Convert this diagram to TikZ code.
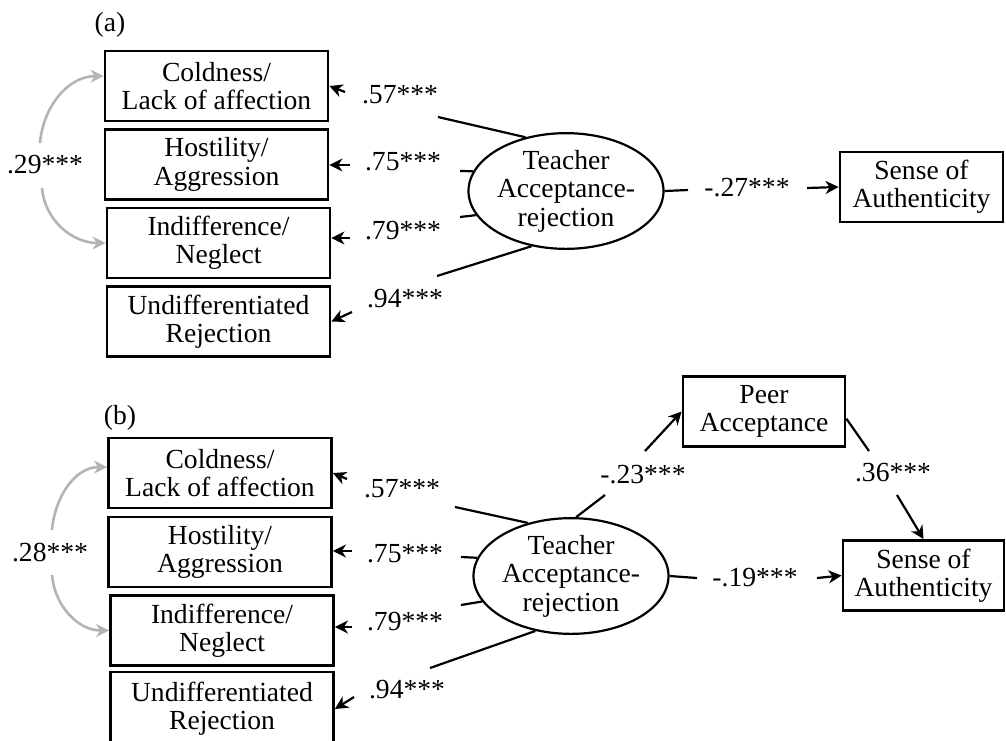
\documentclass[tikz,border=0pt]{standalone}
\usepackage{fontspec}
\setmainfont{Liberation Serif}
\usepackage{tikz}
\usetikzlibrary{shapes.geometric,arrows.meta,positioning}
\definecolor{covgray}{RGB}{180,180,180}

\begin{document}
\begin{tikzpicture}[x=0.5pt,y=-0.5pt,
		every node/.style={font=\fontsize{13.8}{14.2}\selectfont},
		item/.style={draw,line width=1.4pt,minimum width=111.5pt,minimum height=35pt,align=center,inner sep=0pt},
		latent/.style={draw,ellipse,line width=1.1pt,minimum width=96.5pt,minimum height=51pt,align=center,inner sep=0pt},
		link/.style={line width=1.1pt},
		tip/.style={line width=1.1pt,-{Stealth[length=6.5pt,width=6.5pt,inset=2pt]}},
		cov/.style={covgray,line width=1.3pt,-{Stealth[length=6.5pt,width=6.5pt,inset=2pt]}}]
		\useasboundingbox (0,0) rectangle (1006,740);
		% (a)
		\node (lbla) at (110,25) {(a)};
		\node[item] (cold-a) at (216.5,86) {Coldness/\\Lack of affection};
		\node[item] (host-a) at (216.5,164.5) {Hostility/\\Aggression};
		\node[item] (indi-a) at (218.5,243) {Indifference/\\Neglect};
		\node[item] (undi-a) at (218.5,321.5) {Undifferentiated\\Rejection};
		\node[latent] (tar-a) at (566,191) {Teacher\\Acceptance-\\rejection};
		\node[item,minimum width=81.5pt] (soa-a) at (921.5,187) {Sense of\\Authenticity};
		\node (l57a) at (400,95) {.57***};
		\node (l75a) at (403,162) {.75***};
		\node (l79a) at (403,231) {.79***};
		\node (l94a) at (405,299) {.94***};
		\node (l27a) at (747,188) {-.27***};
		\node (l29a) at (45,165) {.29***};
		\coordinate (m1a) at (438,117);
		\coordinate (m2a) at (460,171);
		\coordinate (m3a) at (460,217);
		\coordinate (m4a) at (437,276);
		\coordinate (s1a) at (345,92);
		\coordinate (s2a) at (350,165);
		\coordinate (s3a) at (350,238);
		\coordinate (s4a) at (352,312);
		\coordinate (m5a) at (688,190);
		\coordinate (s5a) at (807,188);
		\coordinate (k1a) at (40,143);
		\coordinate (k2a) at (42,188);
		\draw[link] (tar-a.127)--(m1a);
		\draw[link] (tar-a.168)--(m2a);
		\draw[link] (tar-a.195)--(m3a);
		\draw[link] (tar-a.238)--(m4a);
		\draw[tip] (s1a)--(cold-a.east);
		\draw[tip] (s2a)--(s2a -| host-a.east);
		\draw[tip] (s3a)--(s3a -| indi-a.east);
		\draw[tip] (s4a)--(undi-a.east);
		\draw[link] (tar-a.east)--(m5a);
		\draw[tip] (s5a)--(soa-a.west);
		\draw[cov] (k1a) to[out=85,in=180] (cold-a.175);
		\draw[cov] (k2a) to[out=-85,in=180] (indi-a.west);
		% (b)
		\node (lblb) at (120,418) {(b)};
		\node[item] (cold-b) at (220,473) {Coldness/\\Lack of affection};
		\node[item] (host-b) at (220,552) {Hostility/\\Aggression};
		\node[item] (indi-b) at (222,630.5) {Indifference/\\Neglect};
		\node[item,minimum height=37pt] (undi-b) at (222,709) {Undifferentiated\\Rejection};
		\node[latent] (tar-b) at (571,576) {Teacher\\Acceptance-\\rejection};
		\node[item,minimum width=81pt] (peer) at (764,411.5) {Peer\\Acceptance};
		\node[item,minimum width=80.5pt] (soa-b) at (923.5,575.5) {Sense of\\Authenticity};
		\node (l57b) at (402,489) {.57***};
		\node (l75b) at (405,554) {.75***};
		\node (l79b) at (405,622) {.79***};
		\node (l94b) at (407,690) {.94***};
		\node (l23b) at (643,475) {-.23***};
		\node (l36b) at (893,473) {.36***};
		\node (l19b) at (755,578) {-.19***};
		\node (l28b) at (50,553) {.28***};
		\coordinate (m1b) at (455,507);
		\coordinate (m2b) at (461,557);
		\coordinate (m3b) at (461,605);
		\coordinate (m4b) at (430,668);
		\coordinate (s1b) at (347,479);
		\coordinate (s2b) at (352,551);
		\coordinate (s3b) at (352,627);
		\coordinate (s4b) at (354,697);
		\coordinate (m5b) at (605,495);
		\coordinate (s5b) at (645,451);
		\coordinate (m6b) at (869,451);
		\coordinate (s6b) at (897,495);
		\coordinate (m7b) at (697,578);
		\coordinate (s7b) at (817,578);
		\coordinate (k1b) at (52,530);
		\coordinate (k2b) at (52,575);
		\draw[link] (tar-b.129)--(m1b);
		\draw[link] (tar-b.169)--(m2b);
		\draw[link] (tar-b.196)--(m3b);
		\draw[link] (tar-b.237)--(m4b);
		\draw[tip] (s1b)--(cold-b.east);
		\draw[tip] (s2b)--(s2b -| host-b.east);
		\draw[tip] (s3b)--(s3b -| indi-b.east);
		\draw[tip] (s4b)--(undi-b.east);
		\draw[link] (tar-b.85)--(m5b);
		\draw[tip] (s5b)--(peer.west);
		\draw[link] (peer.-5)--(m6b);
		\draw[tip] (s6b)--(soa-b.north);
		\draw[link] (tar-b.east)--(m7b);
		\draw[tip] (s7b)--(soa-b.west);
		\draw[cov] (k1b) to[out=85,in=180] (cold-b.177);
		\draw[cov] (k2b) to[out=-85,in=180] (indi-b.west);
	\end{tikzpicture}
\end{document}
